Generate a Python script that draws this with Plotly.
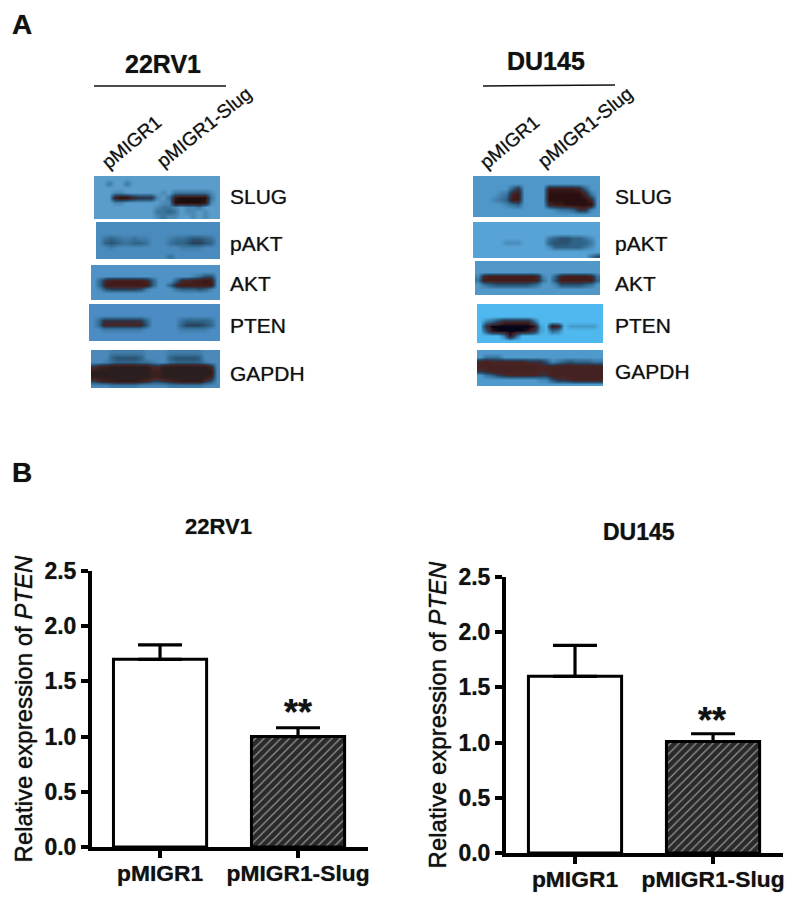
import plotly.graph_objects as go

FONT = "Liberation Sans"
W, H = 800, 902
SOFT = "0 0 1px rgba(0,0,0,0.55)"

# ---- bar chart data -------------------------------------------------
categories = ["pMIGR1", "pMIGR1-Slug"]
rv1_values = [1.70, 1.00]
rv1_errors = [0.13, 0.08]
du_values = [1.60, 1.01]
du_errors = [0.28, 0.07]
y_ticks = [0.0, 0.5, 1.0, 1.5, 2.0, 2.5]
y_title = "Relative expression of <i>PTEN</i>"
blot_labels = ["SLUG", "pAKT", "AKT", "PTEN", "GAPDH"]

# ---- blot densities, one digit per cell -----------------------------
slug_l = ["000000000000000000000",
          "002002000000000000000",
          "000000000000000000000",
          "000110000001022222210",
          "000899766610289999920",
          "000110000001199999810",
          "000000000012210112000",
          "000000000022320110100",
          "000000000012110010100"]
pakt_l = ["000000000000000000000",
          "000000000000000000000",
          "000000000000000000000",
          "023211211000122344320",
          "034322332000233455430",
          "001000000000001111000",
          "000000000000000000000",
          "000000000000200000000"]
akt_l = ["0000000000000000000000",
         "0000000000000000000000",
         "0000000000000000012440",
         "0378888887300037788980",
         "0388888888300378888880",
         "0145555541000023334310",
         "0000000000000000000000",
         "0000000000000000000000"]
pten_l = ["0000000000000000000000",
          "0000000000000000000000",
          "0000000000000000000000",
          "0266666663000002333320",
          "0277777774000003555430",
          "0011111110000001111100",
          "0000000000000000000000",
          "0000000000000000000000"]
gapdh_l = ["0001111110000111111000",
           "0003444430000344443000",
           "0012333322100233333100",
           "6889999999779999999970",
           "9999999999889999999990",
           "9999999999889999999980",
           "5788999987556789999640",
           "0001111100000111111000"]
slug_r = ["000000000000000000000",
          "000000000000000000000",
          "000000360000888887300",
          "000012780000999999720",
          "000123880000999999970",
          "000001230000788999990",
          "000000000000012236610",
          "000000000000000000000"]
pakt_r = ["000000000000000000000",
          "000000000000000000000",
          "000000000000000000000",
          "000000000000234433210",
          "000001110000344433320",
          "000000000000133333210",
          "000000000000000000000",
          "000000000000000000024"]
akt_r = ["000000000000000000000",
         "000000000000000000000",
         "000000000000000000000",
         "178888888871037888872",
         "288888888872048888883",
         "023444444320014444320",
         "000000000000000000000",
         "000000000000000000000"]
pten_r = ["000000000000000000000",
          "000000000000000000000",
          "000000000000000000000",
          "023577777300000000000",
          "069999999810870111110",
          "048999998610320000000",
          "000028300000000000000",
          "000000000000000000000"]
gapdh_r = ["000000000000000000000",
           "022200000000000000000",
           "787777776664123433322",
           "888888888877788888888",
           "678888888877888888888",
           "023567777766888888888",
           "000000000011466788888",
           "000000000000000000000"]

# ---- styling and placement (pixels of the page) ----------------------
blots = [
    (slug_l, (94, 220, 176, 219), "#5a9dcc", "#1d0e0e"),
    (pakt_l, (96, 220, 222, 259), "#4a8bbd", "#1d0e0e"),
    (akt_l, (91, 220, 265, 300), "#4f93c6", "#3a1412"),
    (pten_l, (89, 220, 304, 341), "#4a8cc3", "#1d1518"),
    (gapdh_l, (91, 220, 350, 388), "#4a89b9", "#2a1e1e"),
    (slug_r, (473, 600, 176, 217), "#4f97c9", "#2a0f10"),
    (pakt_r, (473, 600, 222, 258), "#57a3d6", "#1d0e0e"),
    (akt_r, (475, 600, 261, 295), "#5198c8", "#3f1412"),
    (pten_r, (477, 603, 304, 343), "#4fb8ee", "#050518"),
    (gapdh_r, (477, 603, 350, 386), "#5099cd", "#3f2020"),
]
label_ys = [197, 243, 283, 326, 373]


def px_x(v):
    return v / W


def px_y(v):
    return 1 - v / H


def mix(a, b, t):
    ca = [int(a[i:i + 2], 16) for i in (1, 3, 5)]
    cb = [int(b[i:i + 2], 16) for i in (1, 3, 5)]
    return "#" + "".join(f"{round(p + (q - p) * t):02x}" for p, q in zip(ca, cb))


def blot_scale(base, core):
    mid = "#2f6488"
    stops = [base, mix(base, mid, 0.35), mix(base, mid, 0.7), mid, "#2b5170", "#2a3f58",
             "#33303f", "#4a2422", mix("#4a2422", core, 0.5), core]
    return [[i / 9, c] for i, c in enumerate(stops)]


fig = go.Figure()

# bars
panels = [("x", "y", rv1_values, rv1_errors), ("x2", "y2", du_values, du_errors)]
for xa, ya, vals, errs in panels:
    fig.add_trace(go.Bar(
        x=categories, y=vals, xaxis=xa, yaxis=ya, width=0.675,
        marker=dict(
            color=["white", "#2a2a2a"],
            line=dict(color="black", width=3),
            pattern=dict(shape=["", "/"], bgcolor="#161616", fgcolor="#767676",
                         size=6, solidity=0.2),
        ),
        error_y=dict(type="data", symmetric=False, array=errs, arrayminus=[0, 0],
                     color="black", thickness=3.2, width=22),
        showlegend=False, hoverinfo="skip",
    ))

# blots
for rows, (x0, x1, y0, y1), base, core in blots:
    ncol = max(len(r) for r in rows)
    z = [[int(c) for c in r.ljust(ncol, "0")] for r in rows]
    dx = (x1 - x0) / ncol
    dy = (y1 - y0) / len(rows)
    fig.add_trace(go.Heatmap(
        z=z, x0=x0 + dx / 2, dx=dx, y0=y0 + dy / 2, dy=dy,
        xaxis="x3", yaxis="y3", zmin=0, zmax=9, zsmooth="best", showscale=False,
        hoverinfo="skip", colorscale=blot_scale(base, core),
    ))

axis_common = dict(showgrid=False, zeroline=False, showline=True, linecolor="black",
                   linewidth=4, ticks="outside", tickcolor="black", tickwidth=4, ticklen=7,
                   automargin=False, fixedrange=True)


def bar_axes(left, right, top, bottom, xrange_):
    xa = dict(axis_common, domain=[px_x(left), px_x(right)], range=xrange_,
              type="category", tickvals=categories,
              ticktext=[f"<b>{c}</b>" for c in categories], ticklabelstandoff=-4,
              tickfont=dict(family=FONT, size=22.8, color="#111111", shadow=SOFT))
    ya = dict(axis_common, domain=[px_y(bottom), px_y(top)], range=[0, 2.5],
              tickvals=y_ticks, ticktext=[f"<b>{t:.1f}</b>" for t in y_ticks],
              tickfont=dict(family=FONT, size=23, color="#111111", shadow=SOFT),
              title=dict(text=y_title,
                         font=dict(family=FONT, size=24, color="#111111",
                                   shadow="0 0 1px rgba(0,0,0,0.9)"),
                         standoff=6))
    return xa, ya


xa1, ya1 = bar_axes(92, 368, 571, 847, [-0.493, 1.507])
xa2, ya2 = bar_axes(506, 783, 577, 853, [-0.5, 1.507])


def text(s, x, y, size, bold=False, anchor="center", angle=0):
    fig.add_annotation(
        xref="paper", yref="paper", x=px_x(x), y=px_y(y), text=f"<b>{s}</b>" if bold else s,
        showarrow=False, xanchor=anchor, yanchor="middle", textangle=angle,
        font=dict(family=FONT, size=size, color="#111111", shadow=SOFT),
        borderpad=0, borderwidth=0,
    )


text("A", 22, 24, 28, True)
text("B", 22, 472, 28, True)
text("22RV1", 163, 64, 25, True)
text("DU145", 546, 61, 25, True)
text("22RV1", 218, 526, 22, True)
text("DU145", 639, 532, 23, True)
text("**", 298, 712.5, 36, True)
text("**", 712, 720.5, 36, True)
text(categories[0], 131, 142, 19, angle=-40)
text(categories[1], 204, 128, 19, angle=-39)
text(categories[0], 509, 142, 19, angle=-40)
text(categories[1], 585, 128, 19, angle=-39)
for lab, y in zip(blot_labels, label_ys):
    text(lab, 230, y, 21, anchor="left")
    text(lab, 615, y - 1 if lab in ("SLUG", "GAPDH") else y, 21, anchor="left")

rule_lines = [(94, 226, 86, 86), (483, 615, 86, 85)]
shapes = [dict(type="line", xref="paper", yref="paper", x0=px_x(a), x1=px_x(b),
               y0=px_y(c), y1=px_y(d), line=dict(color="#111111", width=1.5))
          for a, b, c, d in rule_lines]

fig.update_layout(
    width=W, height=H, margin=dict(l=0, r=0, t=0, b=0), autosize=False,
    paper_bgcolor="white", plot_bgcolor="rgba(0,0,0,0)", showlegend=False, shapes=shapes,
    xaxis=xa1, yaxis=ya1, xaxis2=xa2, yaxis2=ya2,
    xaxis3=dict(domain=[0, 1], range=[0, W], visible=False, anchor="y3", fixedrange=True,
                automargin=False),
    yaxis3=dict(domain=[0, 1], range=[H, 0], visible=False, anchor="x3", fixedrange=True,
                automargin=False),
)
fig.update_layout(xaxis2=dict(anchor="y2"), yaxis2=dict(anchor="x2"))

fig.write_html("out.html", config={"displayModeBar": False},
               post_script="document.body.style.margin='0';")
